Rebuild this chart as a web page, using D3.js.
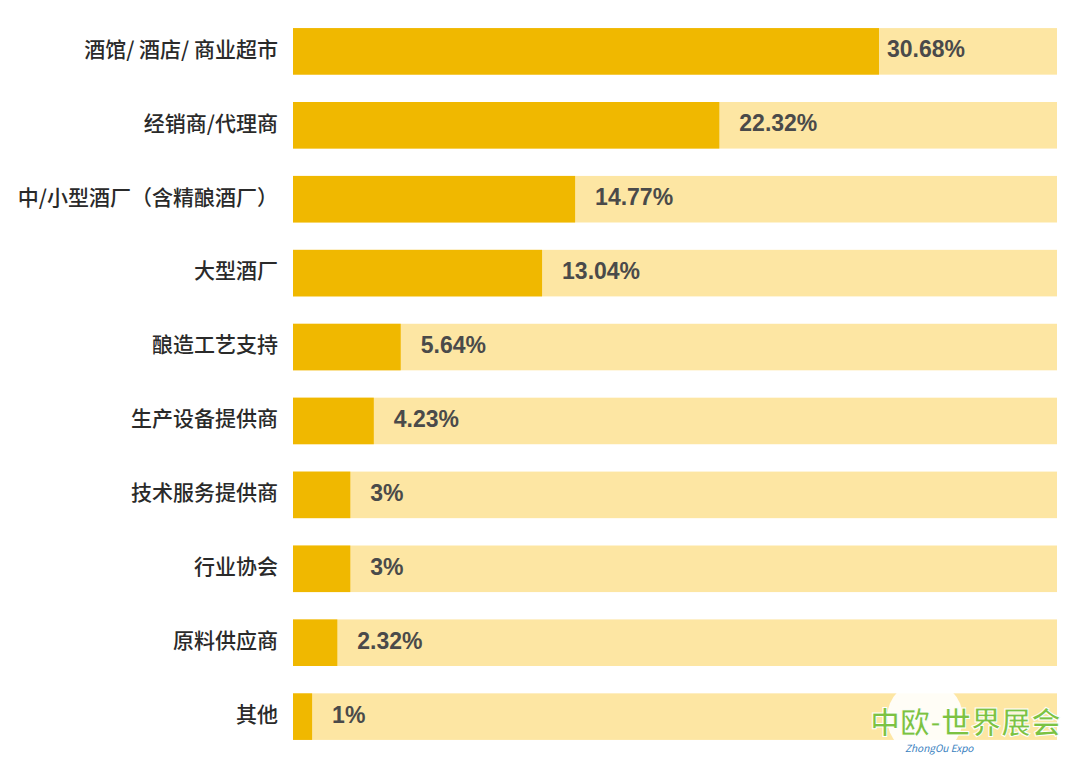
<!DOCTYPE html>
<html><head><meta charset="utf-8">
<script src="https://cdn.jsdelivr.net/npm/d3@7"></script>
<style>body{margin:0;background:#fff;font-family:"Noto Sans CJK SC","Liberation Sans",sans-serif;}</style>
</head><body><svg id="c" width="1080" height="776"></svg>
<script>
const categories=["酒馆/ 酒店/ 商业超市","经销商/代理商","中/小型酒厂（含精酿酒厂）","大型酒厂","酿造工艺支持","生产设备提供商","技术服务提供商","行业协会","原料供应商","其他"];
const values=[30.68,22.32,14.77,13.04,5.64,4.23,3,3,2.32,1];
const labels=["30.68%","22.32%","14.77%","13.04%","5.64%","4.23%","3%","3%","2.32%","1%"];
const svg=d3.select("#c");
const x=d3.scaleLinear().domain([0,40]).range([293,1057]);
const y=d3.scaleBand().domain(categories).range([17,751]).paddingInner(0.37).paddingOuter(0.15);
const g=svg.selectAll("g.r").data(categories).join("g");
g.append("rect").attr("x",x(0)).attr("width",x(40)-x(0)).attr("y",d=>y(d)).attr("height",y.bandwidth()).attr("fill","#FDE6A3");
g.append("rect").attr("x",x(0)).attr("width",(d,i)=>x(values[i])-x(0)).attr("y",d=>y(d)).attr("height",y.bandwidth()).attr("fill","#F0B800");
g.append("text").attr("x",278).attr("y",d=>y(d)+y.bandwidth()/2-2).attr("dy","0.35em").attr("text-anchor","end").attr("font-size",21).attr("font-weight",500).attr("fill","#2a2a2a").text(d=>d);
g.append("text").attr("x",(d,i)=>x(values[i])+(i==0?8:20)).attr("y",d=>y(d)+y.bandwidth()/2-2).attr("dy","0.35em").attr("font-size",23).attr("font-weight","bold").attr("fill","#4a4a4a").attr("font-family","Liberation Sans, Arial, sans-serif").text((d,i)=>labels[i]);
svg.append("circle").attr("cx",925).attr("cy",718).attr("r",38).attr("fill","#fff").attr("opacity",0.9);
svg.append("text").attr("x",870).attr("y",733).attr("font-size",30).attr("font-weight","bold").attr("fill","#7cc242").attr("stroke","#fff").attr("stroke-width",1).text("中欧-世界展会");
svg.append("text").attr("x",905).attr("y",752).attr("font-size",10).attr("fill","#3a7fc0").attr("font-style","italic").text("ZhongOu Expo");
</script></body></html>
